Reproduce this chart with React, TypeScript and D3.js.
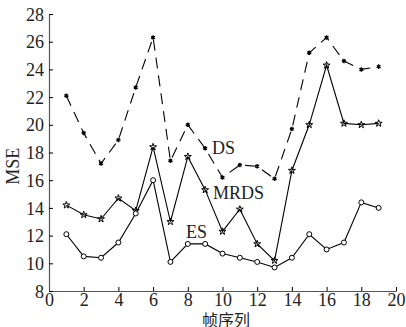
import React, { useRef, useEffect } from 'react'
import * as d3 from 'd3'

// frame index 1..19
const frames = [1, 2, 3, 4, 5, 6, 7, 8, 9, 10, 11, 12, 13, 14, 15, 16, 17, 18, 19]

const dsValues = [22.1, 19.4, 17.2, 18.9, 22.7, 26.3, 17.4, 20.0, 18.3, 16.2, 17.1, 17.0, 16.1, 19.7, 25.2, 26.3, 24.6, 24.0, 24.2]
const mrdsValues = [14.2, 13.5, 13.2, 14.7, 13.8, 18.4, 13.0, 17.7, 15.3, 12.3, 13.9, 11.4, 10.2, 16.7, 20.0, 24.3, 20.1, 20.0, 20.1]
const esValues = [12.1, 10.5, 10.4, 11.5, 13.6, 16.0, 10.1, 11.4, 11.4, 10.7, 10.4, 10.1, 9.7, 10.4, 12.1, 11.0, 11.5, 14.4, 14.0]

const xTicks = [0, 2, 4, 6, 8, 10, 12, 14, 16, 18, 20]
const yTicks = [8, 10, 12, 14, 16, 18, 20, 22, 24, 26, 28]

const seriesLabels = [
  { text: 'DS', x: 9.4, y: 18.35 },
  { text: 'MRDS', x: 9.45, y: 15.05 },
  { text: 'ES', x: 7.9, y: 12.25 },
]

const width = 406
const height = 327
const margin = { top: 14, right: 10, bottom: 36, left: 49 }

const App: React.FC = () => {
  const svgRef = useRef<SVGSVGElement>(null)

  useEffect(() => {
    if (!svgRef.current) return
    d3.select(svgRef.current).selectAll('*').remove()

    const innerWidth = width - margin.left - margin.right
    const innerHeight = height - margin.top - margin.bottom

    const svg = d3.select(svgRef.current).attr('width', width).attr('height', height)
    const g = svg.append('g').attr('transform', `translate(${margin.left}, ${margin.top})`)

    const xScale = d3.scaleLinear().domain([0, 20]).range([0, innerWidth])
    const yScale = d3.scaleLinear().domain([8, 28]).range([innerHeight, 0])

    const font = '"Liberation Serif", "Times New Roman", serif'
    const axisColor = '#555'

    // axes (ticks point inward, MATLAB style)
    const xAxis = g
      .append('g')
      .attr('transform', `translate(0, ${innerHeight})`)
      .call(d3.axisBottom(xScale).tickValues(xTicks).tickSizeInner(-4).tickSizeOuter(0).tickPadding(3))
    const yAxis = g
      .append('g')
      .call(d3.axisLeft(yScale).tickValues(yTicks).tickSizeInner(-4).tickSizeOuter(0).tickPadding(5))

    ;[xAxis, yAxis].forEach(ax => {
      ax.select('.domain').attr('stroke', axisColor).attr('stroke-width', 1.2)
      ax.selectAll('.tick line').attr('stroke', '#000').attr('stroke-width', 1)
      ax.selectAll('text')
        .style('font-family', font)
        .style('font-size', '18px')
        .attr('fill', '#222')
    })
    xAxis.selectAll('text').attr('dy', '0.66em')
    yAxis.selectAll('text').attr('dy', '0.34em')

    const line = d3
      .line<number>()
      .x((_d, i) => xScale(frames[i]))
      .y(d => yScale(d))

    // DS dashed
    g.append('path')
      .datum(dsValues)
      .attr('d', line)
      .attr('fill', 'none')
      .attr('stroke', '#000')
      .attr('stroke-width', 1.1)
      .attr('stroke-dasharray', '11,7')

    g.selectAll('.ds-mark')
      .data(dsValues)
      .enter()
      .append('path')
      .attr('class', 'ds-mark')
      .attr('transform', (d, i) => `translate(${xScale(frames[i])}, ${yScale(d)})`)
      .attr('d', d3.symbol(d3.symbolAsterisk, 14)())
      .attr('fill', 'none')
      .attr('stroke', '#000')
      .attr('stroke-width', 1.4)

    // MRDS solid with stars
    g.append('path')
      .datum(mrdsValues)
      .attr('d', line)
      .attr('fill', 'none')
      .attr('stroke', '#000')
      .attr('stroke-width', 1.1)

    g.selectAll('.mrds-mark')
      .data(mrdsValues)
      .enter()
      .append('path')
      .attr('class', 'mrds-mark')
      .attr('transform', (d, i) => `translate(${xScale(frames[i])}, ${yScale(d)})`)
      .attr('d', d3.symbol(d3.symbolStar, 15)())
      .attr('fill', 'none')
      .attr('stroke', '#000')
      .attr('stroke-width', 1)

    // ES solid with circles
    g.append('path')
      .datum(esValues)
      .attr('d', line)
      .attr('fill', 'none')
      .attr('stroke', '#000')
      .attr('stroke-width', 1.1)

    g.selectAll('.es-mark')
      .data(esValues)
      .enter()
      .append('circle')
      .attr('class', 'es-mark')
      .attr('cx', (_d, i) => xScale(frames[i]))
      .attr('cy', d => yScale(d))
      .attr('r', 2.5)
      .attr('fill', '#fff')
      .attr('stroke', '#000')
      .attr('stroke-width', 1)

    // series labels
    g.selectAll('.series-label')
      .data(seriesLabels)
      .enter()
      .append('text')
      .attr('class', 'series-label')
      .attr('x', d => xScale(d.x))
      .attr('y', d => yScale(d.y))
      .attr('dy', '0.34em')
      .style('font-family', font)
      .style('font-size', '18px')
      .attr('fill', '#222')
      .text(d => d.text)

    // axis titles
    g.append('text')
      .attr('text-anchor', 'middle')
      .attr('transform', 'rotate(-90)')
      .attr('x', -yScale(17))
      .attr('y', -30)
      .style('font-family', font)
      .style('font-size', '18px')
      .attr('fill', '#222')
      .text('MSE')

    g.append('text')
      .attr('text-anchor', 'middle')
      .attr('x', xScale(10.2))
      .attr('y', innerHeight + 35)
      .style('font-family', '"Noto Sans CJK SC", sans-serif')
      .style('font-size', '16px')
      .attr('fill', '#222')
      .text('帧序列')
  }, [])

  return (
    <div style={{ position: 'absolute', left: 0, top: 0 }}>
      <svg ref={svgRef} style={{ display: 'block', background: '#fff' }} />
    </div>
  )
}

export default App
